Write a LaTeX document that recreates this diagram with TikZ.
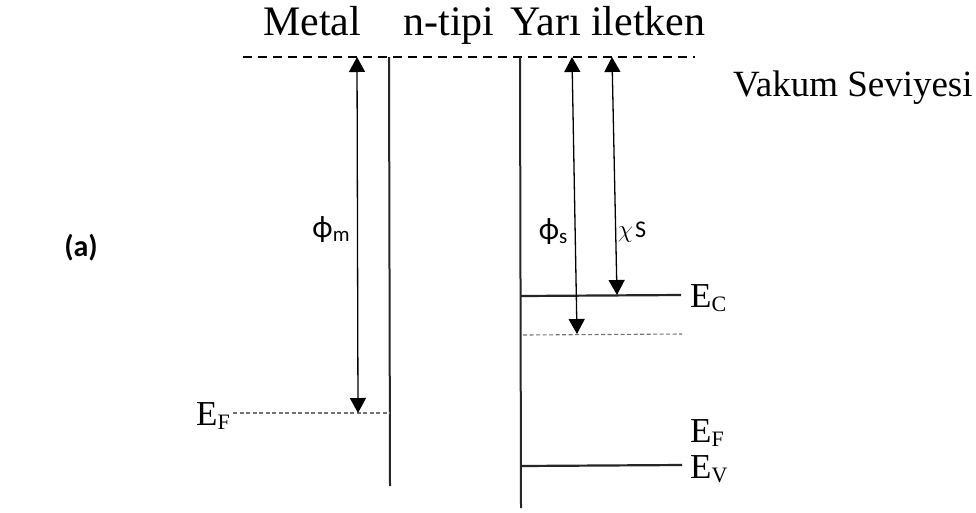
\documentclass[tikz,border=0pt]{standalone}
\usepackage{fontspec}
\setmainfont{Liberation Serif}
\newfontfamily\calibri{Carlito}
\usetikzlibrary{arrows.meta}
\begin{document}
\begin{tikzpicture}[x=1pt,y=-1pt,
  band/.style={line width=2pt,black!85},
  level/.style={line width=2.2pt,black!85},
  fermi/.style={line width=1.1pt,black!55,dash pattern=on 4pt off 2.5pt},
  vac/.style={line width=1.4pt,black,dash pattern=on 9pt off 6pt},
  meas/.style={line width=1.3pt,black,{Triangle[width=16pt,length=15pt]}-{Triangle[width=16pt,length=15pt]}},
  ttl/.style={font=\fontsize{42}{44}\selectfont,inner sep=0pt,anchor=base},
  elab/.style={font=\fontsize{35}{37}\selectfont,inner sep=0pt,anchor=west},
  glab/.style={font=\calibri\fontsize{31}{33}\selectfont,inner sep=0pt}]
\path[use as bounding box,fill=white] (0,0) rectangle (976,512);

% vacuum level
\coordinate (vL) at (243,57);
\coordinate (vR) at (695,57);
\draw[vac] (vL) -- (vR);

% titles
\node[ttl] (tm) at (312,35) {Metal};
\node[ttl] (tn) at (449,35) {n-tipi};
\node[ttl] (ty) at (608,35) {Yarı iletken};
\node[font=\fontsize{37}{39}\selectfont,inner sep=0pt,anchor=base west] (vk) at (733,96) {Vakum Seviyesi};

\node[font=\calibri\bfseries\fontsize{30}{32}\selectfont,inner sep=0pt] (a) at (81,248) {(a)};

% metal
\coordinate (mT) at (389,57);
\coordinate (mB) at (390,486);
\draw[band] (mT) -- (mB);
\coordinate (mFL) at (233,413);
\coordinate (mFR) at (390,413);
\draw[fermi] (mFL) -- (mFR);
\node[elab] (EFm) at (196,416) {E\raisebox{-0.1em}{\fontsize{22}{22}\selectfont F}};
\coordinate (phimT) at (357,57);
\coordinate (phimB) at (358,413);
\draw[meas] (phimT) -- (phimB);
\node[glab] (phim) at (331,230) {ϕ\raisebox{-0.12em}{\fontsize{21}{21}\selectfont m}};

% semiconductor
\coordinate (sT) at (520,57);
\coordinate (sB) at (521,508);
\draw[band] (sT) -- (sB);
\coordinate (cL) at (521,296);
\coordinate (cR) at (681,295);
\draw[level] (cL) -- (cR);
\node[elab] (EC) at (690,298) {E\raisebox{-0.1em}{\fontsize{22}{22}\selectfont C}};
\coordinate (fL) at (523,335);
\coordinate (fR) at (682,334);
\draw[fermi] (fL) -- (fR);
\coordinate (vvL) at (521,466);
\coordinate (vvR) at (682,465);
\draw[level] (vvL) -- (vvR);
\node[elab] (EFs) at (690,433) {E\raisebox{-0.1em}{\fontsize{22}{22}\selectfont F}};
\node[elab] (EV) at (690,469) {E\raisebox{-0.1em}{\fontsize{22}{22}\selectfont V}};

\coordinate (phisT) at (572,57);
\coordinate (phisB) at (577,334);
\draw[meas] (phisT) -- (phisB);
\node[glab] (phis) at (553,232) {ϕ\raisebox{-0.12em}{\fontsize{21}{21}\selectfont s}};
\coordinate (chiT) at (612,57);
\coordinate (chiB) at (617,295);
\draw[meas] (chiT) -- (chiB);
\node[glab] (chis) at (632,232) {\fontsize{32}{32}\selectfont$\chi$\hspace{2pt}{\fontsize{24}{24}\selectfont S}};
\end{tikzpicture}
\end{document}
